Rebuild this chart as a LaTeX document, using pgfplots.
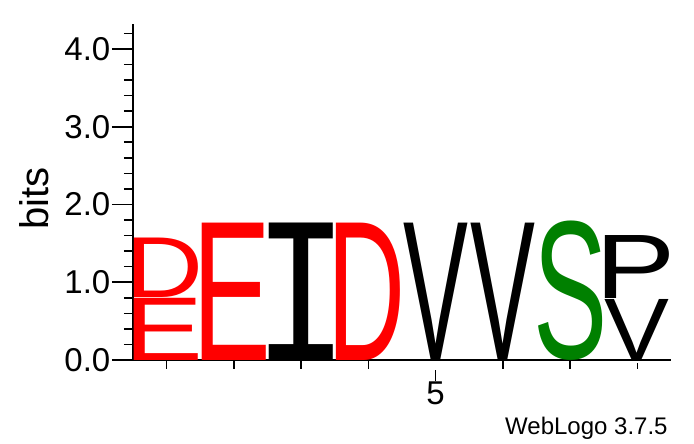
\documentclass[border=0pt]{standalone}
\usepackage{pgfplots}
\pgfplotsset{compat=1.18}
\usepackage{pgfplotstable}
\usepackage{graphicx}
\usepackage{fontspec}
\setmainfont{Liberation Sans}
\newfontfamily\monofont{Liberation Mono}
\definecolor{logored}{RGB}{255,0,0}
\definecolor{logogreen}{RGB}{0,128,0}

% letter with its side bearings trimmed, so it fills the column
\newcommand\inkletter[1]{%
  \hbox{\hskip-\XeTeXglyphbounds1 \XeTeXcharglyph`#1\relax
    #1\hskip-\XeTeXglyphbounds3 \XeTeXcharglyph`#1\relax}}
\newcommand\glyphbox[2]{%
  \resizebox{64pt}{#2pt}{\ifnum`#1=`I\relax\monofont\fi\inkletter{#1}}}
\newcommand\logoletter{%
  \edef\lett{\pgfplotspointmeta}%
  \pgfmathsetmacro\hh{\hgt*77.75}%
  \expandafter\glyphbox\expandafter{\lett}{\hh}}

% columns: position, base of the letter, height in bits, letter
\pgfplotstableread{
x base h let
1 0    0.800 E
1 0.80 0.765 D
2 0    1.766 E
4 0    1.766 D
}\redletters
\pgfplotstableread{
x base h let
3 0     1.766 I
5 0     1.766 V
6 0     1.766 V
8 0     0.785 V
8 0.785 0.810 P
}\blackletters
\pgfplotstableread{
x base h let
7 0 1.766 S
}\greenletters

\begin{document}
\begin{tikzpicture}
\path[use as bounding box] (-133pt,-84pt) rectangle (561pt,360pt);
\begin{axis}[
    x=67.25pt, y=77.75pt,
    xmin=0.5, xmax=8.5,
    ymin=0, ymax=4.32,
    axis lines*=left,
    axis line style={line width=1.6pt},
    clip=false,
    tick align=outside,
    major tick length=21pt,
    minor tick length=9pt,
    every tick/.style={black, line width=1.6pt},
    every major x tick/.append style={shorten >=10pt},
    every minor x tick/.append style={shorten >=3pt},
    xtick={5},
    minor xtick={1,2,3,4,6,7,8},
    ytick={0,1,2,3,4},
    minor ytick={0.2,0.4,0.6,0.8,1.2,1.4,1.6,1.8,2.2,2.4,2.6,2.8,3.2,3.4,3.6,3.8,4.2},
    /pgf/number format/assume math mode=true,
    ticklabel style={font=\fontsize{33}{40}\selectfont},
    xticklabel style={inner sep=0.5pt},
    yticklabel style={inner sep=1.5pt,
      /pgf/number format/.cd, fixed, fixed zerofill, precision=1},
    ylabel={bits},
    every axis y label/.style={at={(rel axis cs:-0.184,0.481)}, rotate=90, anchor=center,
      font=\fontsize{40}{48}\selectfont},
    nodes near coords={\logoletter},
    every node near coord/.style={anchor=south, inner sep=0pt, outer sep=0pt},
    visualization depends on={\thisrow{h} \as \hgt},
    point meta=explicit symbolic,
  ]
  \addplot[draw=none, mark=none, every node near coord/.append style={text=logored}]
    table[x=x, y=base, meta=let] {\redletters};
  \addplot[draw=none, mark=none, every node near coord/.append style={text=black}]
    table[x=x, y=base, meta=let] {\blackletters};
  \addplot[draw=none, mark=none, every node near coord/.append style={text=logogreen}]
    table[x=x, y=base, meta=let] {\greenletters};
  \node[anchor=base east, font=\fontsize{24}{29}\selectfont, inner sep=0pt]
    at (rel axis cs:0.994,-0.223) {WebLogo 3.7.5};
\end{axis}
\end{tikzpicture}
\end{document}
